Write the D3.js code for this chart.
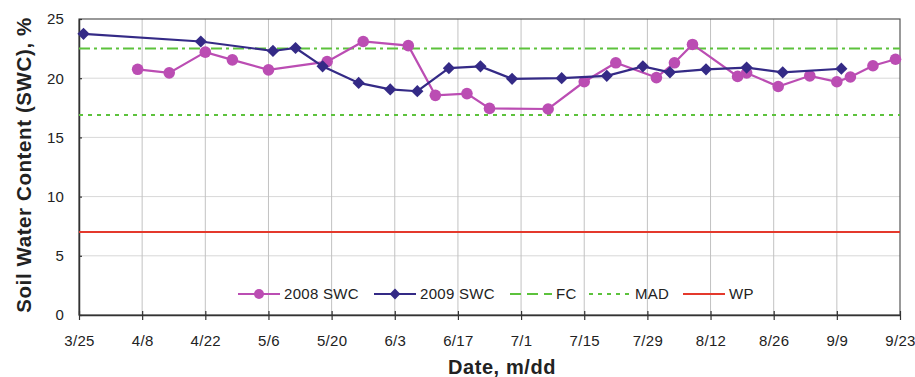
<!DOCTYPE html>
<html>
<head>
<meta charset="utf-8">
<script src="https://cdn.jsdelivr.net/npm/d3@7"></script>
<style>
  body { margin: 0; background: #fff; }
  text { font-family: "Liberation Sans", Arial, sans-serif; }
</style>
</head>
<body>
<div id="chart"></div>
<script>
// dates as m/dd, all placed on one season (non-leap year)
var dates2008 = ["4/7", "4/14", "4/22", "4/28", "5/6", "5/19", "5/27", "6/6", "6/12", "6/19",
  "6/24", "7/7", "7/15", "7/22", "7/31", "8/4", "8/8", "8/18", "8/20", "8/27",
  "9/3", "9/9", "9/12", "9/17", "9/22"];
var swc2008 = [20.75, 20.45, 22.2, 21.55, 20.7, 21.4, 23.1, 22.75, 18.55, 18.7,
  17.45, 17.4, 19.7, 21.3, 20.05, 21.3, 22.85, 20.15, 20.45, 19.3,
  20.2, 19.7, 20.1, 21.05, 21.6];
var dates2009 = ["3/26", "4/21", "5/7", "5/12", "5/18", "5/26", "6/2", "6/8", "6/15", "6/22",
  "6/29", "7/10", "7/20", "7/28", "8/3", "8/11", "8/20", "8/28", "9/10"];
var swc2009 = [23.75, 23.1, 22.3, 22.55, 21.0, 19.6, 19.05, 18.9, 20.85, 21.0,
  19.95, 20.0, 20.2, 21.0, 20.5, 20.75, 20.9, 20.5, 20.8];
var FC = 22.5, MAD = 16.9, WP = 7;
var xStart = "3/25", xEnd = "9/23";
var yTicks = [0, 5, 10, 15, 20, 25];
var legendNames = ["2008 SWC", "2009 SWC", "FC", "MAD", "WP"];

var parse = function (s) { return d3.timeParse("%m/%d/%Y")(s + "/2009"); };

var margin = { top: 19, right: 15, bottom: 62, left: 79 },
  width = 915 - margin.left - margin.right,
  height = 377 - margin.top - margin.bottom;

var svg = d3.select("#chart").append("svg")
  .attr("width", 915).attr("height", 377)
  .append("g")
  .attr("transform", "translate(" + margin.left + "," + margin.top + ")");

var x = d3.scaleTime().domain([parse(xStart), parse(xEnd)]).range([0, width]);
var y = d3.scaleLinear().domain([0, 25]).range([height, 0]);

var xTicks = d3.timeDay.range(parse(xStart), d3.timeDay.offset(parse(xEnd), 1), 14);

// gridlines
svg.append("g").selectAll("line").data(yTicks.slice(1, -1)).enter().append("line")
  .attr("x1", 0).attr("x2", width)
  .attr("y1", function (d) { return y(d); }).attr("y2", function (d) { return y(d); })
  .attr("stroke", "#d8d8d8").attr("stroke-width", 1);
svg.append("g").selectAll("line").data(xTicks.slice(1, -1)).enter().append("line")
  .attr("x1", function (d) { return x(d); }).attr("x2", function (d) { return x(d); })
  .attr("y1", 0).attr("y2", height)
  .attr("stroke", "#c2c2c2").attr("stroke-width", 1);

// frame
svg.append("rect").attr("width", width).attr("height", height)
  .attr("fill", "none").attr("stroke", "#555").attr("stroke-width", 1.2);

// axes
var xAxis = svg.append("g").attr("transform", "translate(0," + height + ")")
  .call(d3.axisBottom(x).tickValues(xTicks).tickFormat(d3.timeFormat("%-m/%-d")).tickSizeInner(5).tickSizeOuter(0));
var yAxis = svg.append("g")
  .call(d3.axisLeft(y).tickValues(yTicks).tickSizeInner(5).tickSizeOuter(0));
[xAxis, yAxis].forEach(function (a) {
  a.select(".domain").attr("stroke", "#333").attr("stroke-width", 1.5);
  a.selectAll(".tick line").attr("stroke", "#333").attr("stroke-width", 1.2);
  a.selectAll("text").attr("font-size", 15).attr("fill", "#222")
    .style("font-family", "'Liberation Sans', Arial, sans-serif")
    .style("letter-spacing", "0.3px");
});
xAxis.selectAll(".tick line").attr("y1", -4);
xAxis.selectAll("text").attr("dy", "1.5em");
yAxis.selectAll(".tick line").attr("x2", 3);
yAxis.selectAll("text").attr("dx", "-0.45em");

// reference lines
var refs = [
  { v: FC, color: "#5cc23c", dash: "11,4,3,4" },
  { v: MAD, color: "#5cc23c", dash: "4,5" },
  { v: WP, color: "#e4392c", dash: null }
];
refs.forEach(function (r) {
  svg.append("line").attr("x1", 0).attr("x2", width)
    .attr("y1", y(r.v)).attr("y2", y(r.v))
    .attr("stroke", r.color).attr("stroke-width", 2)
    .attr("stroke-dasharray", r.dash);
});

var c2008 = "#bb4db3", c2009 = "#342a86";
var line = d3.line().x(function (d) { return x(d[0]); }).y(function (d) { return y(d[1]); });
var d08 = dates2008.map(function (d, i) { return [parse(d), swc2008[i]]; });
var d09 = dates2009.map(function (d, i) { return [parse(d), swc2009[i]]; });

svg.append("path").datum(d08).attr("d", line).attr("fill", "none")
  .attr("stroke", c2008).attr("stroke-width", 2.2);
svg.append("g").selectAll("circle").data(d08).enter().append("circle")
  .attr("cx", function (d) { return x(d[0]); }).attr("cy", function (d) { return y(d[1]); })
  .attr("r", 5.8).attr("fill", c2008);

svg.append("path").datum(d09).attr("d", line).attr("fill", "none")
  .attr("stroke", c2009).attr("stroke-width", 2.2);
var diamond = d3.symbol().type(d3.symbolDiamond2).size(95);
svg.append("g").selectAll("path").data(d09).enter().append("path")
  .attr("d", diamond)
  .attr("transform", function (d) { return "translate(" + x(d[0]) + "," + y(d[1]) + ")"; })
  .attr("fill", c2009);

// legend
var legendX = [159, 295, 431, 510, 604];
var legendStyles = [
  { color: c2008, dash: null, mark: "circle" },
  { color: c2009, dash: null, mark: "diamond" },
  { color: "#5cc23c", dash: "11,6" },
  { color: "#5cc23c", dash: "4,5" },
  { color: "#e4392c", dash: null }
];
var lg = svg.append("g").attr("transform", "translate(0,275)");
legendNames.forEach(function (name, i) {
  var s = legendStyles[i], gx = legendX[i];
  lg.append("line").attr("x1", gx).attr("x2", gx + 42).attr("y1", 0).attr("y2", 0)
    .attr("stroke", s.color).attr("stroke-width", 2).attr("stroke-dasharray", s.dash);
  if (s.mark === "circle") {
    lg.append("circle").attr("cx", gx + 21).attr("cy", 0).attr("r", 5).attr("fill", s.color);
  } else if (s.mark === "diamond") {
    lg.append("path").attr("d", d3.symbol().type(d3.symbolDiamond2).size(75))
      .attr("transform", "translate(" + (gx + 21) + ",0)").attr("fill", s.color);
  }
  lg.append("text").attr("x", gx + 46).attr("y", 0).attr("dy", "0.35em")
    .attr("font-size", 15).attr("fill", "#222").style("letter-spacing", "0.3px").text(name);
});

// axis titles
svg.append("text").attr("x", 423).attr("y", height + 59)
  .attr("text-anchor", "middle").attr("font-size", 20).attr("font-weight", "bold")
  .style("letter-spacing", "0.6px")
  .attr("fill", "#222").text("Date, m/dd");
svg.append("text")
  .attr("transform", "translate(-48,146) rotate(-90)")
  .attr("text-anchor", "middle").attr("font-size", 20.5).attr("font-weight", "bold")
  .style("letter-spacing", "0.6px")
  .attr("fill", "#222").text("Soil Water Content (SWC), %");
</script>
</body>
</html>
